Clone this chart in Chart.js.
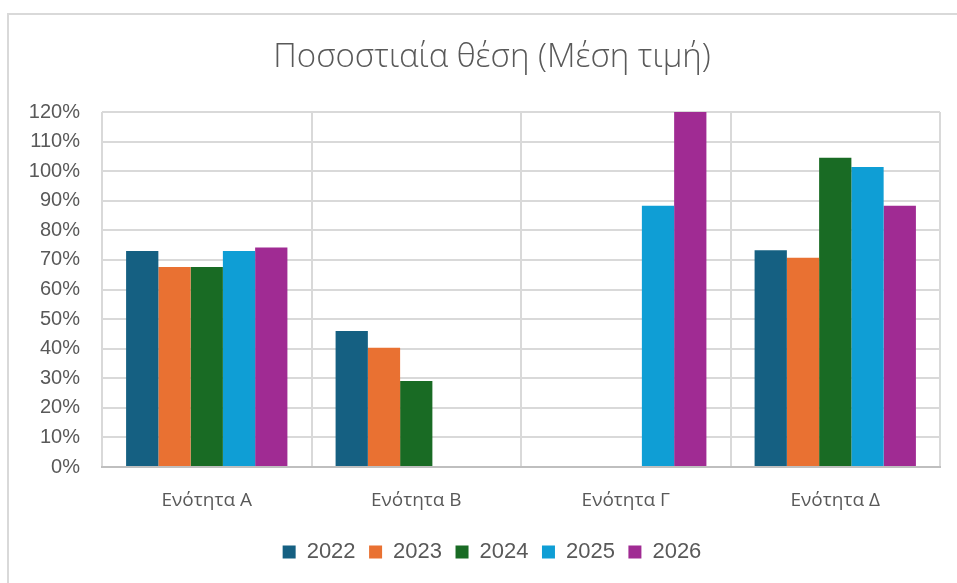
<!DOCTYPE html>
<html>
<head>
<meta charset="utf-8">
<script src="https://cdn.jsdelivr.net/npm/chart.js@4.4.1/dist/chart.umd.min.js"></script>
<style>
  body { margin: 0; background: #fff; }
  #frame { position: absolute; left: 7px; top: 13px; width: 960px; height: 600px; border: 2px solid #d9d9d9; box-sizing: border-box; }
  #wrap { position: absolute; left: 0; top: 0; width: 957px; height: 583px; }
</style>
</head>
<body>
<div id="frame"></div>
<div id="wrap"><canvas id="myChart" width="957" height="583"></canvas></div>
<script>
// Categories and series (percent values)
var categories = ['Ενότητα Α', 'Ενότητα Β', 'Ενότητα Γ', 'Ενότητα Δ'];
var years = ['2022', '2023', '2024', '2025', '2026'];
var v2022 = [73, 46, null, 73.3];
var v2023 = [67.6, 40.3, null, 70.7];
var v2024 = [67.6, 29.1, null, 104.5];
var v2025 = [73, null, 88.3, 101.4];
var v2026 = [74.2, null, 120, 88.3];
var yTicks = [0, 10, 20, 30, 40, 50, 60, 70, 80, 90, 100, 110, 120];

var colors = ['#156082', '#E97132', '#196B24', '#0F9ED5', '#A02B93'];
var series = [v2022, v2023, v2024, v2025, v2026];

var datasets = years.map(function (y, i) {
    return {
        label: y,
        data: series[i],
        backgroundColor: colors[i],
        borderWidth: 0,
        categoryPercentage: 0.77,
        barPercentage: 1.0
    };
});

var gray = '#595959';
var padLeft = 44;
var yFont = '20px "Liberation Sans"';

// width of the widest tick label, so the mirrored labels end 22px left of the axis
var ctx = document.getElementById('myChart').getContext('2d');
ctx.font = yFont;
var widest = ctx.measureText('120%').width;

var myChart = new Chart(ctx, {
    type: 'bar',
    data: { labels: categories, datasets: datasets },
    options: {
        responsive: false,
        animation: false,
        // extra left padding moves title/legend centre right, like the original
        layout: { padding: { top: 38, right: 17, bottom: 10, left: padLeft } },
        plugins: {
            title: {
                display: true,
                text: 'Ποσοστιαία θέση (Μέση τιμή)',
                color: gray,
                font: { family: 'Open Sans', size: 33, weight: '300', lineHeight: 1.2 },
                padding: { top: 0, bottom: 34.4 }
            },
            legend: {
                position: 'bottom',
                labels: {
                    color: gray,
                    font: { family: 'Liberation Sans', size: 22 },
                    boxWidth: 13,
                    boxHeight: 13,
                    padding: 13.5
                }
            },
            tooltip: { enabled: false }
        },
        scales: {
            x: {
                afterFit: function (scale) { scale.height = 60.5; },
                grid: { color: '#d9d9d9', lineWidth: 2, drawTicks: false, offset: true },
                border: { color: '#bfbfbf', width: 2 },
                ticks: { color: gray, font: { family: 'Open Sans', size: 19 }, padding: 22 }
            },
            y: {
                min: 0,
                max: 120,
                afterBuildTicks: function (scale) {
                    scale.ticks = yTicks.map(function (v) { return { value: v }; });
                },
                afterFit: function (scale) { scale.width = 102 - padLeft; },
                grid: { color: '#d9d9d9', lineWidth: 2, drawTicks: false },
                border: { display: false },
                ticks: {
                    color: gray,
                    font: { family: 'Liberation Sans', size: 20 },
                    mirror: true,
                    crossAlign: 'far',
                    padding: -(22 + widest),
                    callback: function (v) { return v + '%'; }
                }
            }
        }
    }
});
</script>
</body>
</html>
